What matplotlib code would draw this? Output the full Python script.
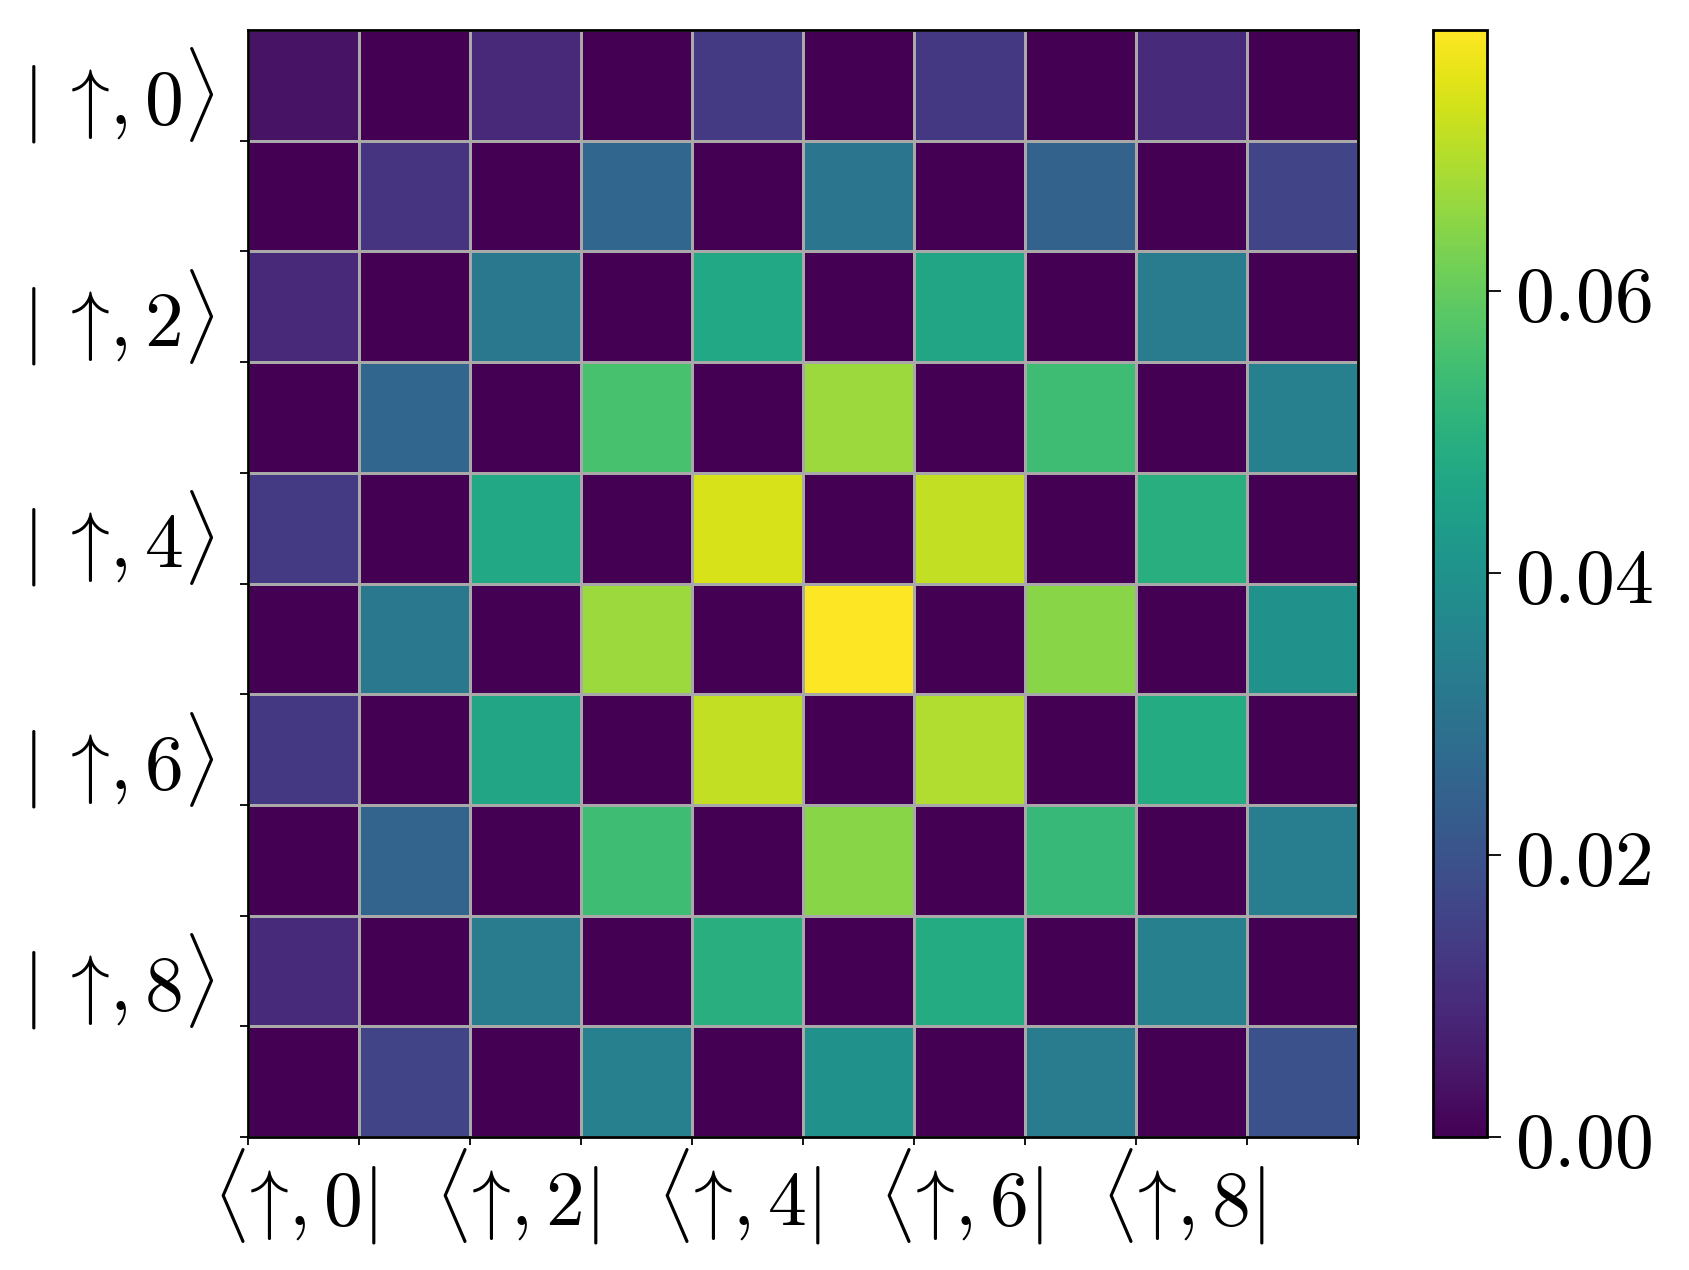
import numpy as np
import matplotlib
matplotlib.use("Agg")
import matplotlib.pyplot as plt
from matplotlib.ticker import FixedLocator, FixedFormatter, NullFormatter

plt.rcParams['mathtext.fontset'] = 'cm'
plt.rcParams['font.family'] = ['DejaVu Serif']

# |rho_{ij}| values (row i = ket, column j = bra)
row0 = [0.0039, 0, 0.0086, 0, 0.0133, 0, 0.0126, 0, 0.0094, 0]
row1 = [0, 0.0118, 0, 0.0259, 0, 0.0306, 0, 0.0243, 0, 0.0157]
row2 = [0.0086, 0, 0.0314, 0, 0.0471, 0, 0.0463, 0, 0.0322, 0]
row3 = [0, 0.0259, 0, 0.0557, 0, 0.0667, 0, 0.0542, 0, 0.0338]
row4 = [0.0133, 0, 0.0471, 0, 0.0738, 0, 0.0714, 0, 0.0495, 0]
row5 = [0, 0.0314, 0, 0.0667, 0, 0.0785, 0, 0.0644, 0, 0.0393]
row6 = [0.0126, 0, 0.0463, 0, 0.0714, 0, 0.0691, 0, 0.0479, 0]
row7 = [0, 0.0251, 0, 0.0542, 0, 0.0644, 0, 0.0526, 0, 0.0330]
row8 = [0.0094, 0, 0.0322, 0, 0.0495, 0, 0.0479, 0, 0.0338, 0]
row9 = [0, 0.0157, 0, 0.0338, 0, 0.0393, 0, 0.0322, 0, 0.0196]
rows = [row0, row1, row2, row3, row4, row5, row6, row7, row8, row9]

label_states = [0, 2, 4, 6, 8]
ket_labels = [r'$|\hspace{0.2}\uparrow\hspace{-0.2},' + str(k) + r'\rangle$' for k in label_states]
bra_labels = [r'$\langle\hspace{-0.2}\uparrow\hspace{-0.2},' + str(k) + r'|$' for k in label_states]
cbar_ticks = [0.00, 0.02, 0.04, 0.06]
cbar_labels = [r'$%.2f$' % t for t in cbar_ticks]

data = np.array(rows)
n = data.shape[0]

W, H = 1690, 1270
fig = plt.figure(figsize=(W / 100, H / 100), dpi=100)
ax = fig.add_axes([248 / W, 1 - 1137 / H, 1110 / W, 1107 / H])
cax = fig.add_axes([1433 / W, 1 - 1137 / H, 54 / W, 1107 / H])

mesh = ax.pcolormesh(np.arange(n + 1), np.arange(n + 1), data, cmap='viridis',
                     vmin=0, vmax=data.max(), edgecolors='darkgray', linewidth=2)
ax.set_xlim(0, n)
ax.set_ylim(n, 0)

fs = 56
# major ticks at cell edges, no labels
ax.xaxis.set_major_locator(FixedLocator(np.arange(0, n + 1)))
ax.yaxis.set_major_locator(FixedLocator(np.arange(1, n + 1)))
ax.xaxis.set_major_formatter(NullFormatter())
ax.yaxis.set_major_formatter(NullFormatter())
ax.tick_params(which='major', direction='out', length=6, width=1.3)
# labels near cell centres
ax.xaxis.set_minor_locator(FixedLocator([s + 0.42 for s in label_states]))
ax.yaxis.set_minor_locator(FixedLocator([s + 0.5 for s in label_states]))
ax.xaxis.set_minor_formatter(FixedFormatter(bra_labels))
ax.yaxis.set_minor_formatter(FixedFormatter(ket_labels))
ax.tick_params(which='minor', length=0, labelsize=fs)
ax.tick_params(axis='x', which='minor', pad=7)
ax.tick_params(axis='y', which='minor', pad=24)
for s in ax.spines.values():
    s.set_linewidth(2)

cb = fig.colorbar(mesh, cax=cax)
cb.set_ticks(cbar_ticks)
cb.set_ticklabels(cbar_labels)
cax.tick_params(labelsize=fs, length=10, width=1.3, pad=10)
cb.outline.set_linewidth(2)

fig.savefig('out.png', dpi=100)
